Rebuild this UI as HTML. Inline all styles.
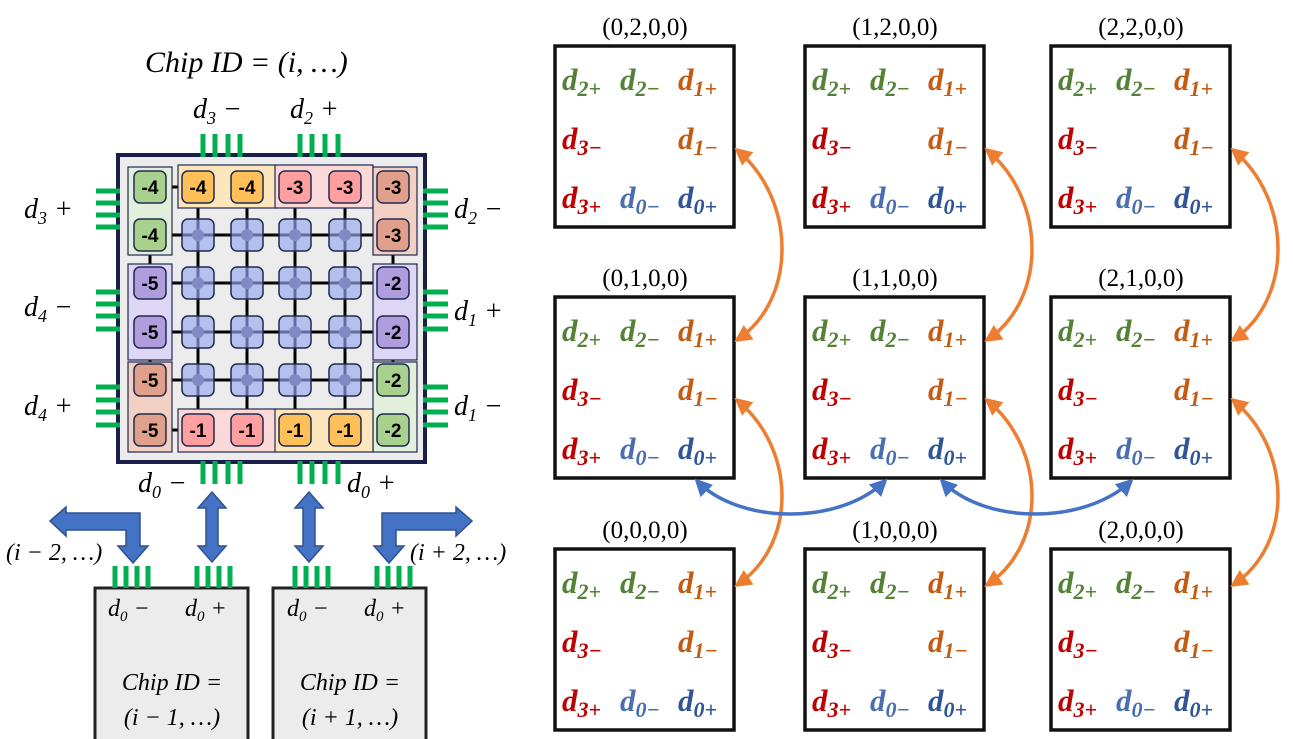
<!DOCTYPE html>
<html><head><meta charset="utf-8"><style>
html,body{margin:0;padding:0;background:#fff;width:1293px;height:739px;overflow:hidden}
svg{display:block}
.m{font-family:"Liberation Serif",serif;font-style:italic}
.n{font-family:"Liberation Serif",serif}
.b{font-family:"Liberation Serif",serif;font-weight:bold;font-style:italic}
.t{font-family:"Liberation Sans",sans-serif;font-weight:bold}
</style></head><body>
<svg id="s" width="1293" height="739" viewBox="0 0 1293 739" xmlns="http://www.w3.org/2000/svg">
<defs>
<marker id="ao" viewBox="0 0 10 10" refX="8" refY="5" markerWidth="5" markerHeight="5" orient="auto-start-reverse"><path d="M0,0L10,5L0,10z" fill="#ed7d31"/></marker>
<marker id="ab" viewBox="0 0 10 10" refX="8" refY="5" markerWidth="5" markerHeight="5" orient="auto-start-reverse"><path d="M0,0L10,5L0,10z" fill="#4472c4"/></marker>
</defs>
<g id="g"></g>
</svg>
<script>
var h='';
function R(x,y,w,H,f,s,sw,r){h+='<rect x="'+x+'" y="'+y+'" width="'+w+'" height="'+H+'" fill="'+f+'" stroke="'+s+'" stroke-width="'+sw+'" rx="'+(r||0)+'"/>';}
function T(x,y,txt,cls,sz,fill,anchor){h+='<text x="'+x+'" y="'+y+'" class="'+cls+'" font-size="'+sz+'" fill="'+(fill||'#000')+'" text-anchor="'+(anchor||'start')+'">'+txt+'</text>';}
function L(x1,y1,x2,y2,c,w){h+='<line x1="'+x1+'" y1="'+y1+'" x2="'+x2+'" y2="'+y2+'" stroke="'+c+'" stroke-width="'+w+'"/>';}
T(145,72,'Chip ID =  (i, …)','m',30);
R(118,155,307,307,'#ececec','#1a1f4a',4);
var cx=[150,198,247,295,345,393], cy=[187,235,283,332,380,430];
for(var i=0;i<6;i++){L(cx[0],cy[i],cx[5],cy[i],'#000',3);L(cx[i],cy[0],cx[i],cy[5],'#000',3);}
R(128,167,44,88,'#e2efda','#1f2a50',1.2);
R(128,264,44,96,'#ddd6f5','#1f2a50',1.2);
R(128,362,44,90,'#f2d0c4','#1f2a50',1.2);
R(178,165,98,43,'#fde5bc','#1f2a50',1.2);R(275,165,98,43,'#fbd9d9','#1f2a50',1.2);
R(373,167,44,88,'#f2d0c4','#1f2a50',1.2);R(373,264,44,96,'#ddd6f5','#1f2a50',1.2);R(373,362,44,90,'#e2efda','#1f2a50',1.2);
R(178,409,98,43,'#fbd9d9','#1f2a50',1.2);R(275,409,98,43,'#fde5bc','#1f2a50',1.2);
var lab=[
[['-4','#a9d18e'],['-4','#ffc05a'],['-4','#ffc05a'],['-3','#ff9f9f'],['-3','#ff9f9f'],['-3','#e0a08c']],
[['-4','#a9d18e'],0,0,0,0,['-3','#e0a08c']],
[['-5','#b09ddd'],0,0,0,0,['-2','#b09ddd']],
[['-5','#b09ddd'],0,0,0,0,['-2','#b09ddd']],
[['-5','#e0a08c'],0,0,0,0,['-2','#a9d18e']],
[['-5','#e0a08c'],['-1','#ff9f9f'],['-1','#ff9f9f'],['-1','#ffc05a'],['-1','#ffc05a'],['-2','#a9d18e']]];
for(var r=0;r<6;r++)for(var c=0;c<6;c++){var x=cx[c],y=cy[r];var e=lab[r][c];
 if(e){R(x-16,y-16,32,32,e[1],'#1f2a50',1.5,6);T(x,y+7,e[0],'t',19,'#000','middle');}
 else{R(x-16,y-16,32,32,'rgba(150,170,240,0.65)','#1f2a50',1.5,6);h+='<circle cx="'+x+'" cy="'+y+'" r="6" fill="#7f8cc4"/>';}}
function pinsV(xs,y1,y2){xs.forEach(function(x){L(x,y1,x,y2,'#00b050',5);});}
function pinsH(ys,x1,x2){ys.forEach(function(y){L(x1,y,x2,y,'#00b050',5);});}
pinsV([203,215,228,240],134,157);pinsV([300,312,325,338],134,157);
pinsV([203,215,228,240],461,484);pinsV([300,312,325,338],461,484);
pinsH([191,203,215,227],96,120);pinsH([292,304,316,329],96,120);pinsH([387,400,412,425],96,120);
pinsH([191,203,215,227],423,448);pinsH([292,304,316,329],423,448);pinsH([387,400,412,425],423,448);
function dl(x,y,n,s){h+='<text x="'+x+'" y="'+y+'" class="m" font-size="28">d<tspan font-size="18" dy="6">'+n+'</tspan><tspan dy="-6"> '+s+'</tspan></text>';}
dl(193,118,'3','−');dl(290,118,'2','+');
dl(24,218,'3','+');dl(454,218,'2','−');
dl(24,316,'4','−');dl(454,320,'1','+');
dl(24,415,'4','+');dl(454,415,'1','−');
dl(138,492,'0','−');dl(347,492,'0','+');
var B='#4472c4',BS='#2f528f';
function dbl(x){h+='<path d="M'+x+',492 L'+(x+14)+',508 L'+(x+6)+',508 L'+(x+6)+',546 L'+(x+14)+',546 L'+x+',562 L'+(x-14)+',546 L'+(x-6)+',546 L'+(x-6)+',508 L'+(x-14)+',508Z" fill="'+B+'" stroke="'+BS+'" stroke-width="1.5"/>';}
dbl(212);dbl(309);
h+='<path d="M50,521 L66,507 L66,513 L140,513 L140,546 L148,546 L133,563 L118,546 L126,546 L126,530 L66,530 L66,536Z" fill="'+B+'" stroke="'+BS+'" stroke-width="1.5"/>';
h+='<path d="M472,521 L456,507 L456,513 L382,513 L382,546 L374,546 L389,563 L404,546 L396,546 L396,530 L456,530 L456,536Z" fill="'+B+'" stroke="'+BS+'" stroke-width="1.5"/>';
T(6,560,'(i − 2, …)','m',24);T(410,560,'(i + 2, …)','m',24);
R(95,588,153,160,'#ececec','#222',3);R(273,588,153,160,'#ececec','#222',3);
pinsV([115,126,137,148],566,588);pinsV([197,208,219,230],566,588);
pinsV([295,306,317,328],566,588);pinsV([377,388,399,410],566,588);
function sl(x,y,s){h+='<text x="'+x+'" y="'+y+'" class="m" font-size="24">d<tspan font-size="15" dy="5">0</tspan><tspan dy="-5"> '+s+'</tspan></text>';}
sl(108,616,'−');sl(185,616,'+');sl(287,616,'−');sl(364,616,'+');
T(172,690,'Chip ID =','m',24,'#000','middle');T(172,725,'(i − 1, …)','m',24,'#000','middle');
T(350,690,'Chip ID =','m',24,'#000','middle');T(350,725,'(i + 1, …)','m',24,'#000','middle');
var bx=[555,805,1051], by=[46,297,549];
var ids=[['(0,2,0,0)','(1,2,0,0)','(2,2,0,0)'],['(0,1,0,0)','(1,1,0,0)','(2,1,0,0)'],['(0,0,0,0)','(1,0,0,0)','(2,0,0,0)']];
var G='#538135',O='#c55a11',Rd='#c00000',Bl='#2f5597',Bl2='#4a6fb0';
function bd(x,y,n,s,col){h+='<text x="'+x+'" y="'+y+'" class="b" font-size="31" fill="'+col+'">d<tspan font-size="22" dy="6">'+n+s+'</tspan></text>';}
for(var r=0;r<3;r++)for(var c=0;c<3;c++){var x=bx[c],y=by[r];
 T(x+90,y-11,ids[r][c],'n',25,'#000','middle');
 R(x,y,179,181,'#fff','#111',3.5);
 bd(x+7,y+44,'2','+',G);bd(x+65,y+44,'2','−',G);bd(x+123,y+44,'1','+',O);
 bd(x+7,y+103,'3','−',Rd);bd(x+123,y+103,'1','−',O);
 bd(x+7,y+162,'3','+',Rd);bd(x+65,y+162,'0','−',Bl2);bd(x+123,y+162,'0','+',Bl);}
for(var c=0;c<3;c++){var x=bx[c]+182;
 h+='<path d="M'+x+',150 C'+(x+60)+',200 '+(x+60)+',300 '+x+',340" fill="none" stroke="#ed7d31" stroke-width="3.5" marker-start="url(#ao)" marker-end="url(#ao)"/>';
 h+='<path d="M'+x+',400 C'+(x+60)+',450 '+(x+60)+',545 '+x+',585" fill="none" stroke="#ed7d31" stroke-width="3.5" marker-start="url(#ao)" marker-end="url(#ao)"/>';}
h+='<path d="M697,481 C740,525 840,525 885,481" fill="none" stroke="#4472c4" stroke-width="3.5" marker-start="url(#ab)" marker-end="url(#ab)"/>';
h+='<path d="M942,481 C985,525 1085,525 1131,481" fill="none" stroke="#4472c4" stroke-width="3.5" marker-start="url(#ab)" marker-end="url(#ab)"/>';
document.getElementById('g').innerHTML=h;
</script>
</body></html>
